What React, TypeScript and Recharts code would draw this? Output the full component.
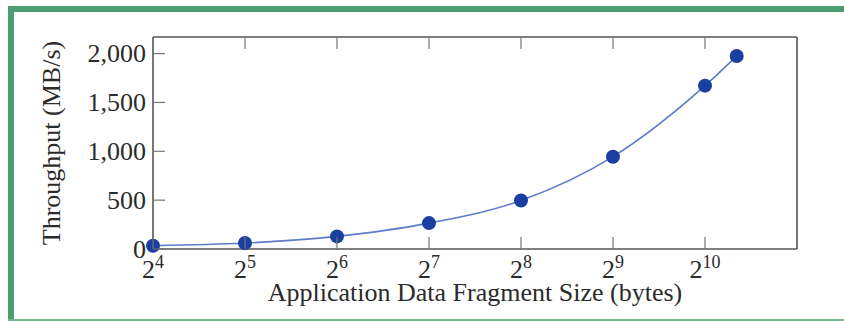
import { Line, LineChart, XAxis, YAxis } from "recharts";

// fragment size in bytes, throughput in MB/s
const fragmentSizes = [16, 32, 64, 128, 256, 512, 1024, 1300];
const throughput = [34, 61, 129, 265, 496, 945, 1672, 1975];

const xTickExponents = [4, 5, 6, 7, 8, 9, 10];
const yTicks = [0, 500, 1000, 1500, 2000];

const data = fragmentSizes.map((size, i) => ({ size, mbs: throughput[i] }));
const xTicks = xTickExponents.map((e) => 2 ** e);

const SERIF = '"Liberation Serif", "DejaVu Serif", serif';
const TEXT = "#2b2b2b";
const AXIS = "#555";
const TICK = "#777";
const GREEN = "#4c9e70";

function BottomTick({ x, y, payload }: any) {
  const exp = Math.round(Math.log2(payload.value));
  return (
    <g>
      <line x1={x} x2={x} y1={y} y2={y - 12} stroke={TICK} strokeWidth={1.2} />
      <text x={x} y={y + 29} textAnchor="middle" fill={TEXT} fontSize={26} fontFamily={SERIF}>
        2
        <tspan dy={-10} fontSize={18}>
          {exp}
        </tspan>
      </text>
    </g>
  );
}

function TopTick({ x, y }: any) {
  return <line x1={x} x2={x} y1={y} y2={y + 12} stroke={TICK} strokeWidth={1.2} />;
}

function LeftTick({ x, y, payload }: any) {
  return (
    <g>
      <line x1={x} x2={x + 12} y1={y} y2={y} stroke={TICK} strokeWidth={1.2} />
      <text x={x - 7} y={y} dy="0.34em" textAnchor="end" fill={TEXT} fontSize={26} fontFamily={SERIF}>
        {Number(payload.value).toLocaleString("en-US")}
      </text>
    </g>
  );
}

function RightTick({ x, y }: any) {
  return <line x1={x} x2={x - 12} y1={y} y2={y} stroke={TICK} strokeWidth={1.2} />;
}

const xLabel = ({ viewBox }: any) => (
  <text
    x={viewBox.x + viewBox.width / 2}
    y={viewBox.y + 52}
    textAnchor="middle"
    fill={TEXT}
    fontSize={26}
    fontFamily={SERIF}
  >
    Application Data Fragment Size (bytes)
  </text>
);

const yLabel = ({ viewBox }: any) => {
  const cx = viewBox.x + 60;
  const cy = viewBox.y + viewBox.height / 2;
  return (
    <text
      x={cx}
      y={cy}
      transform={`rotate(-90, ${cx}, ${cy})`}
      textAnchor="middle"
      fill={TEXT}
      fontSize={26}
      fontFamily={SERIF}
    >
      Throughput (MB/s)
    </text>
  );
};

export default function App() {
  return (
    <div style={{ position: "absolute", left: 0, top: 0, width: 844, height: 321, background: "#fff" }}>
      <LineChart width={844} height={321} data={data} margin={{ top: 0, right: 0, bottom: 0, left: 0 }}>
        <XAxis
          dataKey="size"
          type="number"
          scale="log"
          domain={[16, 2048]}
          ticks={xTicks}
          height={72}
          tickSize={0}
          tickMargin={0}
          tickLine={false}
          tick={<BottomTick />}
          axisLine={{ stroke: AXIS, strokeWidth: 1.6 }}
          label={xLabel}
        />
        <XAxis
          xAxisId="top"
          orientation="top"
          dataKey="size"
          type="number"
          scale="log"
          domain={[16, 2048]}
          ticks={xTicks}
          height={37}
          tickSize={0}
          tickMargin={0}
          tickLine={false}
          tick={<TopTick />}
          axisLine={{ stroke: AXIS, strokeWidth: 1.6 }}
        />
        <YAxis
          type="number"
          domain={[0, 2170]}
          ticks={yTicks}
          width={153}
          tickSize={0}
          tickMargin={0}
          tickLine={false}
          tick={<LeftTick />}
          axisLine={{ stroke: AXIS, strokeWidth: 1.6 }}
          label={yLabel}
        />
        <YAxis
          yAxisId="right"
          orientation="right"
          type="number"
          domain={[0, 2170]}
          ticks={yTicks}
          width={47}
          tickSize={0}
          tickMargin={0}
          tickLine={false}
          tick={<RightTick />}
          axisLine={{ stroke: AXIS, strokeWidth: 1.6 }}
        />
        <Line
          type="monotone"
          dataKey="mbs"
          stroke="#5b7cc6"
          strokeWidth={1.6}
          dot={{ r: 7, fill: "#1b3ea1", stroke: "none" }}
          isAnimationActive={false}
        />
      </LineChart>
      <div style={{ position: "absolute", left: 8, top: 6, width: 836, height: 6, background: GREEN }} />
      <div style={{ position: "absolute", left: 8, top: 6, width: 6, height: 315, background: GREEN }} />
      <div style={{ position: "absolute", left: 8, top: 319, width: 836, height: 2, background: "#74b890" }} />
    </div>
  );
}
